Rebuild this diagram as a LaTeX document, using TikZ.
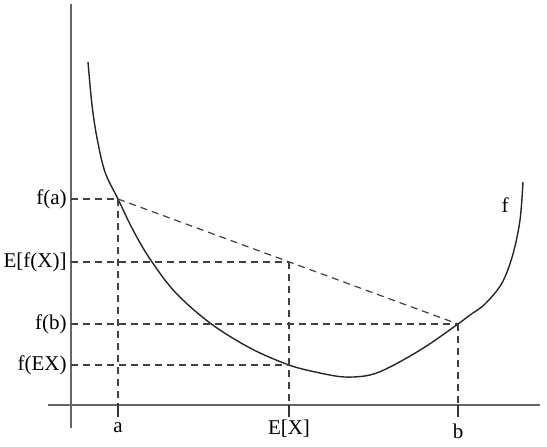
\documentclass[tikz,border=0pt]{standalone}
\usepackage{fontspec}
\setmainfont{Liberation Serif}
\usetikzlibrary{positioning}
\tikzset{line width=.6pt,
  every node/.style={font=\fontsize{10.5}{12}\selectfont},
  axis/.style={draw=black!60,line width=.8pt},
  guide/.style={draw=black!75,dashed,dash pattern=on 3.5pt off 2.5pt,line width=.6pt},
  curve/.style={draw=black!85,line width=.7pt},
  tick/.style={draw=black!80,line width=.6pt},
  ylab/.style={anchor=east,inner sep=1pt},
  xlab/.style={anchor=north,inner sep=1pt}}
\begin{document}
\begin{tikzpicture}[x=0.5pt,y=-0.5pt]
\path[use as bounding box] (0,0) rectangle (547,446);
% axes
\coordinate (O) at (71,405);
\draw[axis] (71,4) -- (71,428);
\draw[axis] (48,405) -- (540,405);
% points on the curve and on the chord
\coordinate (A) at (118,199);
\coordinate (B) at (458,324);
\coordinate (M) at (289,262);
\coordinate (FM) at (289,365);
% feet on the y axis
\coordinate (yA) at (71,199);
\coordinate (yM) at (71,262);
\coordinate (yB) at (71,324);
\coordinate (yFM) at (71,365);
% tick ends below the x axis
\coordinate (tA) at (118,417);
\coordinate (tM) at (289,417);
\coordinate (tB) at (458,417);
% curve f
\draw[curve] plot[smooth,tension=.55] coordinates {(88,62) (92,105) (97,138)
  (105,172) (A) (133,230) (150,259) (175,292) (210,323) (250,348) (FM)
  (320,373) (345,377) (370,375) (392,366) (425,347) (B) (470,315)
  (485,304) (502,283) (513,254) (520,220) (523,182)};
% chord and guides
\draw[guide] (A) -- (B);
\draw[guide] (yA) -- (A);
\draw[guide] (yM) -- (M);
\draw[guide] (yB) -- (B);
\draw[guide] (yFM) -- (FM);
\draw[guide] (A) -- (118,405);
\draw[guide] (M) -- (289,405);
\draw[guide] (B) -- (458,405);
\draw[tick] (118,405) -- (tA);
\draw[tick] (289,405) -- (tM);
\draw[tick] (458,405) -- (tB);
% labels
\node[ylab] (la) at (69,199) {f(a)};
\node[ylab] (lm) at (69,262) {E[f(X)]};
\node[ylab] (lb) at (69,324) {f(b)};
\node[ylab] (lfm) at (69,365) {f(EX)};
\node[xlab] (xa) at (118,420) {a};
\node[xlab] (xm) at (289,418) {E[X]};
\node[xlab] (xb) at (458,422) {b};
\node (lf) at (505,205) {f};
\end{tikzpicture}
\end{document}
